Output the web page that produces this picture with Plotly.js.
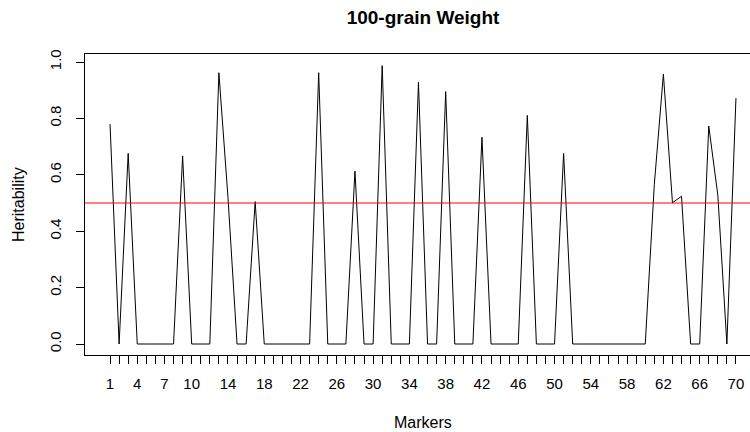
<!DOCTYPE html>
<html>
<head>
<meta charset="utf-8">
<script src="https://cdn.plot.ly/plotly-3.0.1.min.js"></script>
<style>
html, body { margin: 0; padding: 0; overflow: hidden; background: #fff; width: 750px; height: 432px; }
#chart { width: 761px; height: 432px; }
</style>
</head>
<body>
<div id="chart"></div>
<script>
// ---- data ----
const markers = [1,2,3,4,5,6,7,8,9,10,11,12,13,14,15,16,17,18,19,20,
                 21,22,23,24,25,26,27,28,29,30,31,32,33,34,35,36,37,38,39,40,
                 41,42,43,44,45,46,47,48,49,50,51,52,53,54,55,56,57,58,59,60,
                 61,62,63,64,65,66,67,68,69,70];
const heritability = [0.780, 0.000, 0.676, 0.000, 0.000, 0.000, 0.000, 0.000, 0.667, 0.000,
                      0.000, 0.000, 0.962, 0.520, 0.000, 0.000, 0.505, 0.000, 0.000, 0.000,
                      0.000, 0.000, 0.000, 0.962, 0.000, 0.000, 0.000, 0.613, 0.000, 0.000,
                      0.987, 0.000, 0.000, 0.000, 0.928, 0.000, 0.000, 0.895, 0.000, 0.000,
                      0.000, 0.733, 0.000, 0.000, 0.000, 0.000, 0.811, 0.000, 0.000, 0.000,
                      0.676, 0.000, 0.000, 0.000, 0.000, 0.000, 0.000, 0.000, 0.000, 0.000,
                      0.566, 0.957, 0.501, 0.524, 0.000, 0.000, 0.773, 0.528, 0.000, 0.872];
const labelledMarkers = [1,4,7,10,14,18,22,26,30,34,38,42,46,50,54,58,62,66,70];
const yTickValues = [0, 0.2, 0.4, 0.6, 0.8, 1.0];
const yTickLabels = ["0.0", "0.2", "0.4", "0.6", "0.8", "1.0"];
const threshold = 0.5;
const chartTitle = "100-grain Weight";
const xTitle = "Markers";
const yTitle = "Heritability";

// ---- chart ----
const font = "Liberation Sans, Arial, Helvetica, sans-serif";
const xTickText = markers.map(m => labelledMarkers.includes(m) ? String(m) : "");

const trace = {
  x: markers,
  y: heritability,
  type: "scatter",
  mode: "lines",
  line: { color: "#000000", width: 1 },
  hoverinfo: "x+y",
  showlegend: false
};

const layout = {
  width: 761,
  height: 432,
  margin: { l: 85, r: 0, t: 54, b: 77 },
  paper_bgcolor: "#ffffff",
  plot_bgcolor: "#ffffff",
  font: { family: font, size: 15, color: "#000000" },
  title: {
    text: chartTitle,
    font: { family: font, size: 19, color: "#000000", weight: "bold" },
    xref: "paper", x: 0.5, xanchor: "center",
    yref: "container", y: 1 - 17 / 432, yanchor: "middle"
  },
  xaxis: {
    range: [-1.76, 72.76],
    tickmode: "array",
    tickvals: markers,
    ticktext: xTickText,
    ticks: "outside",
    ticklen: 8,
    tickwidth: 1,
    tickcolor: "#000000",
    ticklabelstandoff: 7,
    showgrid: false,
    zeroline: false,
    showline: true,
    mirror: true,
    linecolor: "#000000",
    linewidth: 1,
    tickfont: { family: font, size: 15, color: "#000000" }
  },
  yaxis: {
    range: [-0.039, 1.0284],
    tickmode: "array",
    tickvals: yTickValues,
    ticktext: yTickLabels,
    tickangle: -90,
    ticks: "outside",
    ticklen: 8,
    tickwidth: 1,
    tickcolor: "#000000",
    ticklabelstandoff: 9,
    showgrid: false,
    zeroline: false,
    showline: true,
    mirror: true,
    linecolor: "#000000",
    linewidth: 1,
    tickfont: { family: font, size: 15, color: "#000000" }
  },
  shapes: [{
    type: "line",
    xref: "paper", x0: 0, x1: 1,
    yref: "y", y0: threshold, y1: threshold,
    line: { color: "#ff0000", width: 1 }
  }],
  annotations: [
    {
      text: xTitle, showarrow: false,
      xref: "paper", x: 0.5, xanchor: "center",
      yref: "paper", y: 0, yanchor: "middle", yshift: -67,
      font: { family: font, size: 16, color: "#000000" }
    },
    {
      text: yTitle, showarrow: false, textangle: -90,
      xref: "paper", x: 0, xanchor: "center", xshift: -66.5,
      yref: "paper", y: 0.5, yanchor: "middle",
      font: { family: font, size: 16, color: "#000000" }
    }
  ]
};

Plotly.newPlot("chart", [trace], layout, { displayModeBar: false, staticPlot: true });
</script>
</body>
</html>
